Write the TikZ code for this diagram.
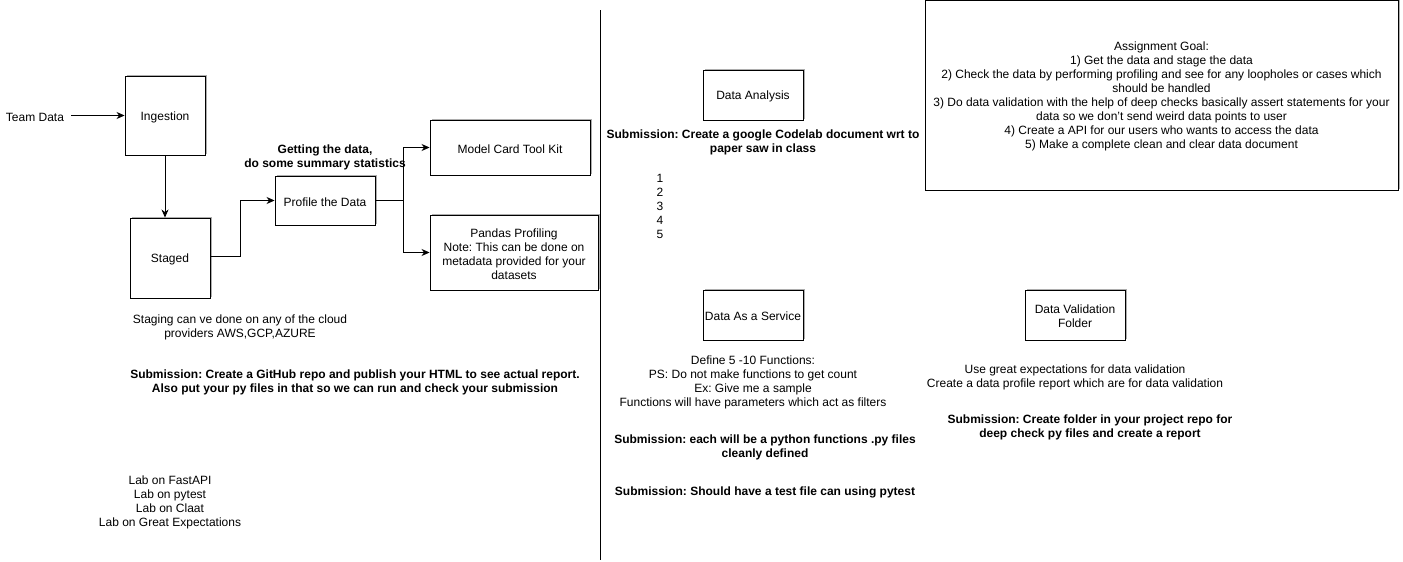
\documentclass[tikz,border=0pt]{standalone}
\usepackage{fontspec}
\setmainfont{Liberation Sans}
\usetikzlibrary{arrows.meta,shadows}
\frenchspacing
\begin{document}
\begin{tikzpicture}[x=1pt,y=-1pt,
  font=\fontsize{12}{14}\selectfont,
  box/.style={draw=black, line width=0.9pt, fill=white, inner sep=0pt,
    drop shadow={shadow xshift=1.5pt, shadow yshift=1.5pt, fill=black!40, opacity=0.8}},
  boxtext/.style={label={[align=center, inner sep=0pt, yshift=-1.5pt]center:#1}},
  txt/.style={align=center, inner sep=0pt, yshift=-1.5pt},
  bold/.style={txt, font=\fontsize{12}{14}\selectfont\bfseries},
  conn/.style={draw, line width=0.9pt, -{Stealth[length=8pt,width=7pt,inset=2.5pt]}},
  plain/.style={draw, line width=0.9pt}]
\useasboundingbox (0,0) rectangle (1403,562);

% left column: ingestion pipeline
\node[txt] (team) at (35,116) {Team Data};
\node[box, minimum width=80pt, minimum height=79pt, boxtext={Ingestion}] (ing) at (165,115.5) {};
\node[box, minimum width=80pt, minimum height=80pt, boxtext={Staged}] (stg) at (170,258) {};
\node[box, minimum width=100pt, minimum height=49pt, boxtext={Profile the Data}] (prof) at (325,200.5) {};
\node[box, minimum width=160pt, minimum height=55pt, boxtext={Model Card Tool Kit}] (mct) at (510,147.5) {};
\node[box, minimum width=168pt, minimum height=75pt,
  boxtext={Pandas Profiling\\Note: This can be done on\\metadata provided for your\\datasets}] (pp) at (514,252.5) {};

\coordinate (j1) at (240,256);
\coordinate (j2) at (403,200.5);

\draw[conn, shorten <=7pt] (team.east |- ing) -- (ing.west);
\draw[conn] (ing.south) -- ([xshift=-5pt]stg.north);
\draw[conn] (stg.east |- j1) -- (j1) |- (prof.west);
\draw[plain] (prof.east) -- (j2);
\draw[conn] (j2) |- (mct.west);
\draw[conn] (j2) |- (pp.west);

\node[bold] (getting) at (325,155.5) {Getting the data,\\do some summary statistics};
\node[txt] (staging) at (240,326) {Staging can ve done on any of the cloud\\providers AWS,GCP,AZURE};
\node[bold] (sub1) at (355,381) {Submission: Create a GitHub repo and publish your HTML to see actual report.\\Also put your py files in that so we can run and check your submission};
\node[txt] (labs) at (170,501) {Lab on FastAPI\\Lab on pytest\\Lab on Claat\\Lab on Great Expectations};

% divider
\coordinate (dtop) at (600,10);
\coordinate (dbot) at (600,560);
\draw[plain] (dtop) -- (dbot);

% right column
\node[box, minimum width=100pt, minimum height=50pt, boxtext={Data Analysis}] (da) at (753,95) {};
\node[bold] (sub2) at (763,141) {Submission: Create a google Codelab document wrt to\\paper saw in class};
\node[txt] (nums) at (660,205) {1\\2\\3\\4\\5};

\node[box, minimum width=473pt, minimum height=190pt,
  boxtext={Assignment Goal:\\1) Get the data and stage the data\\2) Check the data by performing profiling and see for any loopholes or cases which\\should be handled\\3) Do data validation with the help of deep checks basically assert statements for your\\data so we don't send weird data points to user\\4) Create a API for our users who wants to access the data\\5) Make a complete clean and clear data document}] (goal) at (1161.5,95) {};

\node[box, minimum width=100pt, minimum height=50pt, boxtext={Data As a Service}] (daas) at (753,315) {};
\node[txt] (define) at (753,381) {Define 5 -10 Functions:\\PS: Do not make functions to get count\\Ex: Give me a sample\\Functions will have parameters which act as filters};
\node[bold] (sub3) at (765,446) {Submission: each will be a python functions .py files\\cleanly defined};
\node[bold] (sub4) at (765,491) {Submission: Should have a test file can using pytest};

\node[box, minimum width=100pt, minimum height=50pt, boxtext={Data Validation\\Folder}] (dvf) at (1075,315) {};
\node[txt] (ge) at (1075,376) {Use great expectations for data validation\\Create a data profile report which are for data validation};
\node[bold] (sub5) at (1090,426) {Submission: Create folder in your project repo for\\deep check py files and create a report};
\end{tikzpicture}
\end{document}
